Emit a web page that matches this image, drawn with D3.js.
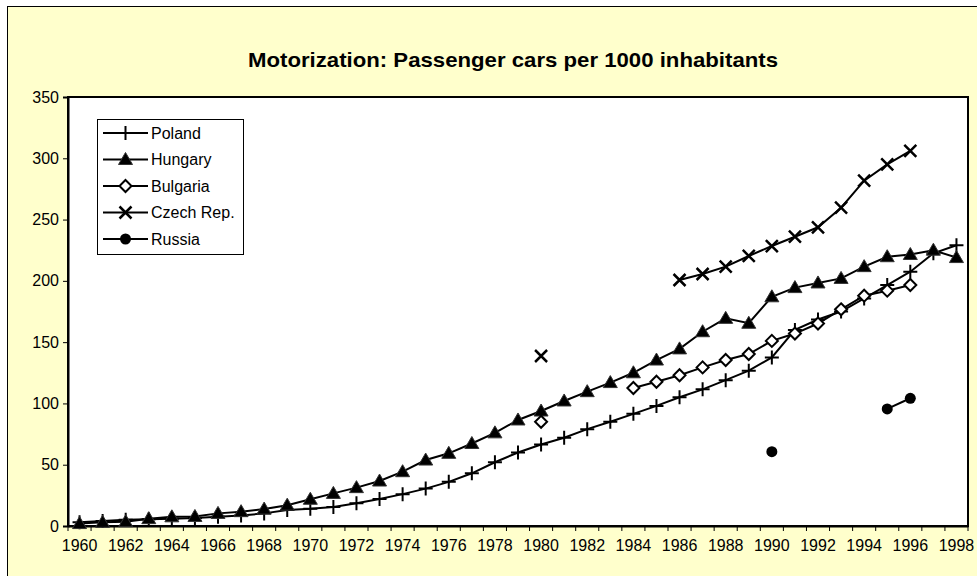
<!DOCTYPE html>
<html>
<head>
<meta charset="utf-8">
<script src="https://cdn.jsdelivr.net/npm/d3@7"></script>
<style>
  body { margin: 0; background: #fff; }
  svg { display: block; font-family: "Liberation Sans", Arial, sans-serif; }
</style>
</head>
<body>
<div id="vis-container"></div>
<script>
// categories
const years = d3.range(1960, 1999);
const yearLabels = years.filter(y => y % 2 === 0);
const yTicks = [0, 50, 100, 150, 200, 250, 300, 350];

// series values, one per year (null = no data)
const poland = [3, 4, 5, 5.5, 6, 6.5, 7.5, 8.5, 10.3, 13,
  14, 15.5, 18.5, 22, 26, 30.5, 36, 43, 52, 60,
  66.5, 72, 79, 85, 91.5, 98, 105, 111.5, 119, 126.7,
  137.5, 160, 168.5, 175, 185.7, 196.6, 207.5, 222.5, 229];
const hungary = [2, 3, 3.5, 6, 7.5, 7.8, 10.3, 11.7, 13.8, 17,
  21.8, 26.6, 31.3, 36.7, 44.3, 53.8, 59.3, 67.3, 76, 86.5,
  93.8, 102, 109.6, 117, 125, 135.4, 144.5, 158.5, 169.4, 165.4,
  187, 194.5, 198.3, 202, 211.6, 219.7, 221.5, 225, 219];
const bulgaria = [null, null, null, null, null, null, null, null, null, null,
  null, null, null, null, null, null, null, null, null, null,
  85, null, null, null, 112.6, 117.7, 123, 129.4, 135.4, 140.3,
  151, 157, 165.2, 176.8, 187.9, 192, 196.6, null, null];
const czech = [null, null, null, null, null, null, null, null, null, null,
  null, null, null, null, null, null, null, null, null, null,
  138.7, null, null, null, null, null, 200.7, 205.6, 211.6, 220.3,
  228.4, 236, 243.7, 259.7, 281.7, 295, 306, null, null];
const russia = [null, null, null, null, null, null, null, null, null, null,
  null, null, null, null, null, null, null, null, null, null,
  null, null, null, null, null, null, null, null, null, null,
  60.6, null, null, null, null, 95.5, 104.2, null, null];

const seriesNames = ["Poland", "Hungary", "Bulgaria", "Czech Rep.", "Russia"];
const seriesValues = [poland, hungary, bulgaria, czech, russia];
const seriesMarkers = ["plus", "triangle", "diamond", "cross", "circle"];

const width = 977, height = 576;
const margin = { top: 97, right: 9, bottom: 50, left: 68 };

const svg = d3.select('#vis-container').append('svg')
  .attr('width', width)
  .attr('height', height);

// chart area
svg.append('rect')
  .attr('x', 7.5).attr('y', 6.5)
  .attr('width', width).attr('height', height)
  .attr('fill', '#ffffcc')
  .attr('stroke', '#000')
  .attr('stroke-width', 1);

const x = d3.scaleBand()
  .domain(years)
  .range([margin.left, width - margin.right])
  .padding(0);

const y = d3.scaleLinear()
  .domain([0, 350])
  .range([height - margin.bottom, margin.top]);

const cx = yr => x(yr) + x.bandwidth() / 2;

// plot area
svg.append('rect')
  .attr('x', margin.left).attr('y', margin.top)
  .attr('width', width - margin.left - margin.right)
  .attr('height', height - margin.top - margin.bottom)
  .attr('fill', '#fff')
  .attr('stroke', '#000')
  .attr('stroke-width', 2);

// title
svg.append('text')
  .attr('x', 513)
  .attr('y', 67)
  .attr('text-anchor', 'middle')
  .attr('font-size', 21)
  .attr('font-weight', 'bold')
  .attr('textLength', 530)
  .attr('lengthAdjust', 'spacingAndGlyphs')
  .text('Motorization: Passenger cars per 1000 inhabitants');

// y axis
const yAxis = svg.append('g')
  .attr('transform', `translate(${margin.left},0)`)
  .call(d3.axisLeft(y).tickValues(yTicks).tickSize(5).tickPadding(4));
yAxis.select('.domain').attr('stroke', '#000').attr('stroke-width', 2);
yAxis.selectAll('text').attr('font-size', 16).attr('fill', '#000')
  .attr('font-family', '"Liberation Sans", Arial, sans-serif');

// x axis: labels every 2 years, tick marks between categories
const xAxis = svg.append('g')
  .attr('transform', `translate(0,${height - margin.bottom})`)
  .call(d3.axisBottom(x).tickValues(yearLabels).tickSize(0).tickPadding(14));
xAxis.select('.domain').attr('stroke', '#000').attr('stroke-width', 2);
xAxis.selectAll('text').attr('font-size', 16).attr('fill', '#000')
  .attr('font-family', '"Liberation Sans", Arial, sans-serif');

svg.append('g')
  .selectAll('line')
  .data(years.concat([null]))
  .enter()
  .append('line')
  .attr('x1', d => d === null ? x.range()[1] : x(d))
  .attr('x2', d => d === null ? x.range()[1] : x(d))
  .attr('y1', height - margin.bottom)
  .attr('y2', height - margin.bottom + 5)
  .attr('stroke', '#000')
  .attr('stroke-width', 1);

// markers
function drawMarker(g, type, px, py) {
  if (type === "plus") {
    g.append('path')
      .attr('d', `M${px - 7},${py}H${px + 7}M${px},${py - 7}V${py + 7}`)
      .attr('stroke', '#000').attr('stroke-width', 2).attr('fill', 'none');
  } else if (type === "triangle") {
    g.append('path')
      .attr('d', `M${px},${py - 7}L${px + 7},${py + 5}L${px - 7},${py + 5}Z`)
      .attr('fill', '#000').attr('stroke', '#333').attr('stroke-width', 1);
  } else if (type === "diamond") {
    g.append('path')
      .attr('d', `M${px},${py - 6}L${px + 6},${py}L${px},${py + 6}L${px - 6},${py}Z`)
      .attr('fill', '#fff').attr('stroke', '#000').attr('stroke-width', 2);
  } else if (type === "cross") {
    g.append('path')
      .attr('d', `M${px - 6},${py - 6}L${px + 6},${py + 6}M${px + 6},${py - 6}L${px - 6},${py + 6}`)
      .attr('stroke', '#000').attr('stroke-width', 2.5).attr('fill', 'none');
  } else if (type === "circle") {
    g.append('circle')
      .attr('cx', px).attr('cy', py).attr('r', 5.5)
      .attr('fill', '#000');
  }
}

const line = d3.line()
  .defined(d => d.v !== null)
  .x(d => cx(d.year))
  .y(d => y(d.v));

seriesValues.forEach((vals, i) => {
  const pts = years.map((yr, j) => ({ year: yr, v: vals[j] }));
  const g = svg.append('g');
  g.append('path')
    .datum(pts)
    .attr('d', line)
    .attr('fill', 'none')
    .attr('stroke', '#000')
    .attr('stroke-width', 2);
  pts.filter(d => d.v !== null).forEach(d => drawMarker(g, seriesMarkers[i], cx(d.year), y(d.v)));
});

// legend
const legend = svg.append('g');
legend.append('rect')
  .attr('x', 97.5).attr('y', 119.5)
  .attr('width', 146).attr('height', 135)
  .attr('fill', '#fff')
  .attr('stroke', '#000')
  .attr('stroke-width', 1);

seriesNames.forEach((name, i) => {
  const ly = 133 + i * 26.5;
  legend.append('line')
    .attr('x1', 103).attr('x2', 148)
    .attr('y1', ly).attr('y2', ly)
    .attr('stroke', '#000').attr('stroke-width', 2);
  drawMarker(legend, seriesMarkers[i], 125.5, ly);
  legend.append('text')
    .attr('x', 151)
    .attr('y', ly + 5.5)
    .attr('font-size', 16)
    .text(name);
});
</script>
</body>
</html>
